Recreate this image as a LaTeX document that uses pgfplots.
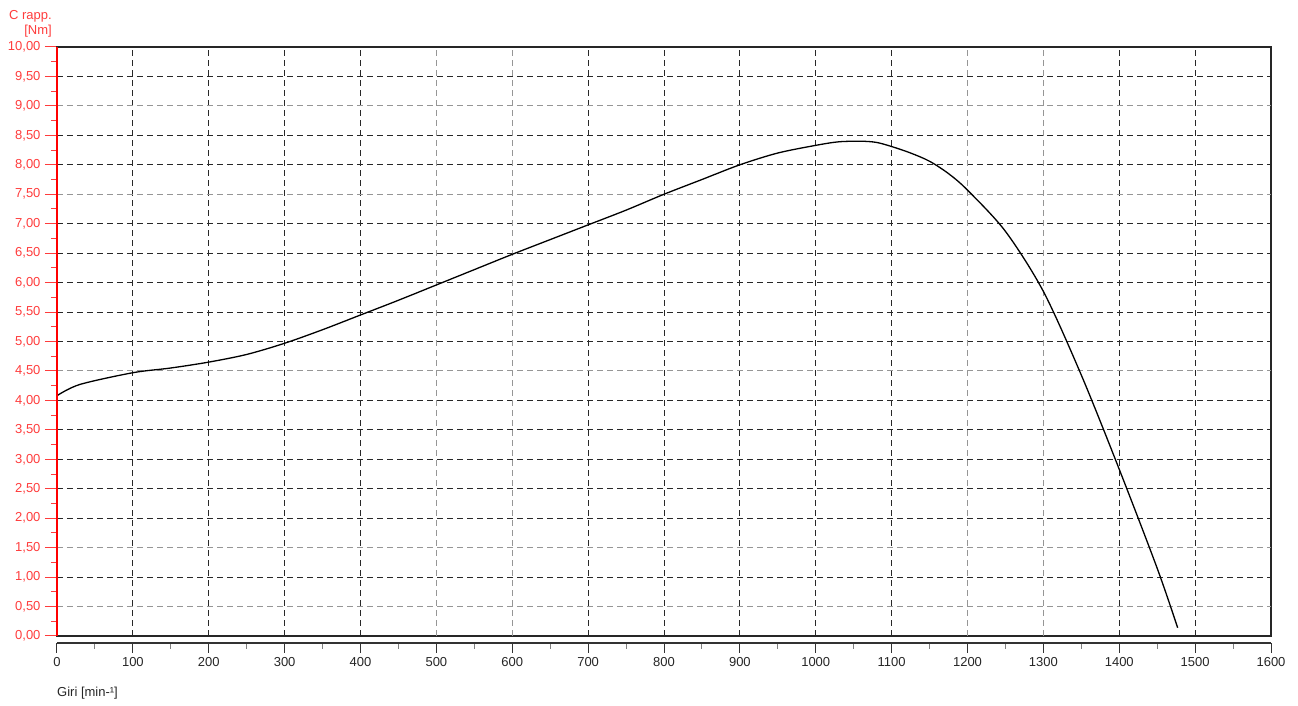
\documentclass[border=0pt]{standalone}
\usepackage{pgfplots}
\pgfplotsset{compat=1.18}
\usepackage{fontspec}
\setmainfont{Liberation Sans}
\definecolor{lred}{RGB}{255,60,60}
\definecolor{gridc}{RGB}{40,40,40}
\definecolor{gridl}{RGB}{150,150,150}

\begin{document}
\begin{tikzpicture}
\useasboundingbox (-57pt,-70pt) rectangle (1241pt,636pt);
% curva di coppia
\begin{axis}[
  at={(0,0)}, anchor=south west,
  scale only axis,
  width=1214pt, height=589pt,
  xmin=0, xmax=1600, ymin=0, ymax=10,
  xtick={0,100,200,300,400,700,800,900,1000,1100,1400,1500,1600},
  extra x ticks={500,600,1200,1300},
  xticklabels={}, extra x tick labels={},
  x tick style={draw=none},
  ytick={0,1,2,2.5,3,3.5,4,5,5.5,6,6.5,7,8,8.5,9.5,10},
  extra y ticks={0.5,1.5,4.5,7.5,9},
  minor ytick={0.25,0.75,...,9.75},
  ytick pos=left,
  tick align=outside,
  major tick length=12pt,
  minor tick length=6pt,
  y tick style={lred, line width=1pt},
  yticklabel style={lred, font=\fontsize{13}{13}\selectfont, xshift=-1pt},
  /pgf/number format/.cd, fixed, fixed zerofill, precision=2, use comma, assume math mode=true,
  /pgfplots/.cd,
  grid=major,
  major grid style={gridc, line width=1pt, dash pattern=on 6pt off 4pt},
  extra tick style={major grid style={gridl, line width=1pt, dash pattern=on 6pt off 4pt}},
  axis line style={black!85, line width=1.3pt},
  clip=false,
]
\addplot[black, line width=1.3pt, smooth, tension=0.5] coordinates {
  (0,4.08) (30,4.27) (100,4.47) (150,4.55) (200,4.65) (250,4.78)
  (300,4.97) (350,5.20) (400,5.45) (450,5.70) (500,5.96) (550,6.22)
  (600,6.48) (650,6.73) (700,6.98) (750,7.23) (800,7.50) (850,7.75)
  (900,8.00) (950,8.20) (1000,8.33) (1030,8.39) (1060,8.40) (1080,8.38)
  (1100,8.31) (1125,8.20) (1150,8.06) (1175,7.85) (1200,7.57)
  (1250,6.87) (1300,5.85) (1350,4.43) (1400,2.83) (1450,1.15) (1477,0.14)
};
\draw[red, line width=1.4pt] (axis description cs:0,0) -- (axis description cs:0,1);
\node[lred, anchor=south east, align=right, font=\fontsize{13}{15}\selectfont, inner sep=0pt]
  at ([shift={(-5pt,10pt)}]axis description cs:0,1) {C rapp.\\{[Nm]}};
\node[black!85, anchor=west, font=\fontsize{13}{13}\selectfont, inner sep=0pt]
  at ([shift={(0pt,-57pt)}]axis description cs:0,0) {Giri [min-¹]};
\end{axis}
% asse dei giri
\begin{axis}[
  at={(0,-7pt)}, anchor=south west,
  scale only axis,
  width=1214pt, height=1pt,
  xmin=0, xmax=1600, ymin=0, ymax=1,
  hide y axis,
  axis x line*=bottom,
  x axis line style={-, black!80, line width=1.3pt},
  xtick distance=100,
  minor x tick num=1,
  tick align=outside,
  major tick length=10pt,
  minor tick length=6pt,
  x tick style={black!80, line width=1pt},
  minor x tick style={black!50, line width=1pt},
  xticklabel style={black!85, font=\fontsize{13}{13}\selectfont, yshift=-1pt},
  /pgf/number format/.cd, 1000 sep={}, assume math mode=true,
]
\addplot[draw=none] coordinates {(0,0) (1600,0)};
\end{axis}
\end{tikzpicture}
\end{document}
